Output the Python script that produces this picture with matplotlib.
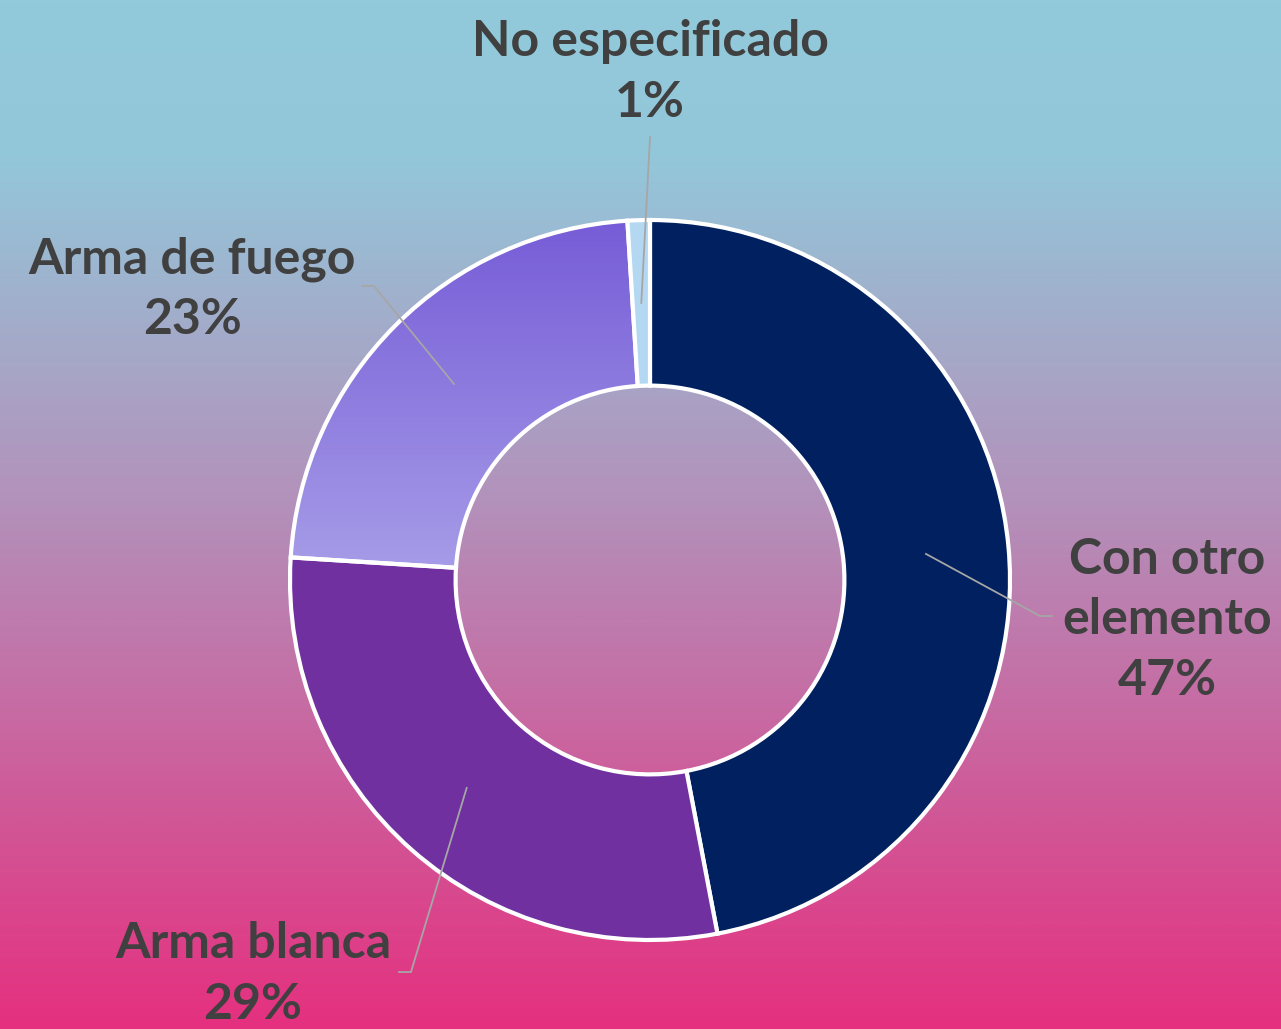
import numpy as np
import matplotlib.pyplot as plt
from matplotlib.colors import LinearSegmentedColormap

plt.rcParams['font.family'] = ['Lato', 'DejaVu Sans']

# Data
labels = ['Con otro\nelemento', 'Arma blanca', 'Arma de fuego', 'No especificado']
values = [47, 29, 23, 1]
colors = ['#002060', '#7030A0', 'none', '#B4D8F2']

# label layout (data coords, radius 1 = outer ring)
elbows = [(1.083, -0.10), (-0.664, -1.089), (-0.767, 0.817), (0.0, 1.23)]
stubs = [0.033, -0.033, -0.033, 0.0]
text_pos = [(1.436, -0.111), (-1.103, -1.094), (-1.272, 0.808), (0.0, 1.411)]

W, H = 1281, 1029
fig = plt.figure(figsize=(W / 100, H / 100), dpi=100)

# background gradient
bg = fig.add_axes([0, 0, 1, 1], zorder=0)
bg_cmap = LinearSegmentedColormap.from_list(
    'bg', [(0, '#E5307F'), (0.5, '#B48FB9'), (0.85, '#93C7DA'), (1, '#92CADB')])
bg.imshow(np.linspace(0, 1, 512)[:, None], aspect='auto', cmap=bg_cmap,
          extent=[0, 1, 0, 1], origin='lower')
bg.axis('off')

ax = fig.add_axes([0, 0, 1, 1], zorder=1)
ax.set_facecolor('none')

wedges, _ = ax.pie(values, colors=colors, startangle=90, counterclock=False,
                   radius=1, wedgeprops=dict(width=0.46, edgecolor='white',
                                             linewidth=3))

# gradient fill for "Arma de fuego"
fuego = wedges[2]
g_cmap = LinearSegmentedColormap.from_list('fuego', ['#AAA1E9', '#765CD7'])
im = ax.imshow(np.linspace(0, 1, 256)[:, None], aspect='auto', cmap=g_cmap,
               extent=[-1.0, 0.0, -0.05, 1.0], origin='lower', zorder=0.9)
im.set_clip_path(fuego)
fuego.set_zorder(1)

total = sum(values)
start = 90
for i, w in enumerate(wedges):
    span = 360 * values[i] / total
    mid = np.deg2rad(start - span / 2)
    start -= span
    x0, y0 = 0.77 * np.cos(mid), 0.77 * np.sin(mid)
    ex, ey = elbows[i]
    xs = [x0, ex, ex + stubs[i]]
    ys = [y0, ey, ey]
    ax.plot(xs, ys, color='#A6A6A6', lw=1.3, zorder=3)
    pct = f'{values[i]}%'
    ax.text(text_pos[i][0], text_pos[i][1], f'{labels[i]}\n{pct}',
            ha='center', va='center', fontsize=36, fontweight='bold',
            color='#404040', linespacing=1.42, zorder=4)

R = 360
cx, cy = 650, H - 580
ax.set_aspect('equal')
ax.set_xlim(-cx / R, (W - cx) / R)
ax.set_ylim(-cy / R, (H - cy) / R)
ax.axis('off')

fig.savefig('out.png', dpi=100)
